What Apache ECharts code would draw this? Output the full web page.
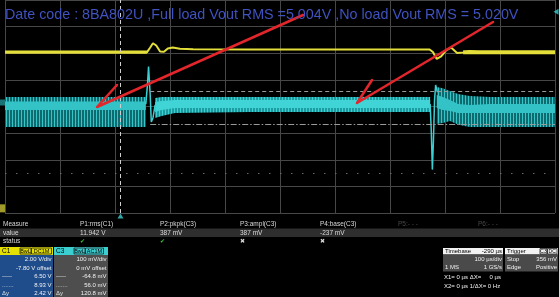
<!DOCTYPE html>
<html><head><meta charset="utf-8">
<script src="https://cdn.jsdelivr.net/npm/echarts@6/dist/echarts.min.js"></script>
<style>html,body{margin:0;padding:0;background:#000;overflow:hidden}#c{width:559px;height:297px}</style>
</head><body><div id="c"></div>
<script>
// ================= DATA =================
// Time in µs relative to the trigger (timebase 100 µs/div, delay -290 µs)
// ---- C1 (yellow) : volts, 2.00 V/div, offset -7.80 V
const c1Time = [-210,-110,-1,48,54,59,65,72,79,86,95,108,132,235,381,562,568,575,583,592,601,612,623,635,654,790];
const c1Volt = [11.89,11.89,11.89,11.87,12.23,12.55,12.38,11.93,11.91,12.16,12.23,12.13,12.10,12.08,12.08,12.08,11.89,11.37,11.56,12.01,12.23,11.82,11.86,11.97,11.87,11.87];
// noisy thickness of C1 (envelopes)
const c1NoiseLeftT = [-210, 48];   const c1NoiseLeftHi = [12.01, 12.01];  const c1NoiseLeftLo = [11.76, 11.76];
const c1NoiseRightT = [623, 790];  const c1NoiseRightHi = [12.03, 12.03]; const c1NoiseRightLo = [11.72, 11.72];

// ---- C3 (cyan) : mV, 100 mV/div, offset 0 mV
// ripple band before the load step
const c3LeftT = [-210, 46];
const c3LeftOuterHi = [36, 36];   const c3LeftOuterLo = [-77, -77];
const c3LeftCoreHi  = [19, 19];   const c3LeftCoreLo  = [-13, -13];
// band while loaded
const c3MidT = [63, 75, 99, 235, 563];
const c3MidOuterHi = [32, 36, 36, 36, 36];   const c3MidOuterLo = [-43, -36, -24, -21, -21];
const c3MidCoreHi  = [17, 21, 24, 24, 24];   const c3MidCoreLo  = [-21, -13, -6, -6, -6];
// band after the load release
const c3RightT = [575, 586, 599, 614, 635, 672, 790];
const c3RightOuterHi = [73, 69, 58, 47, 39, 36, 36];   const c3RightOuterLo = [-66, -62, -54, -69, -77, -77, -77];
const c3RightCoreHi  = [43, 36, 24, 9, 6, 9, 9];       const c3RightCoreLo  = [-6, -13, -17, -24, -24, -24, -24];
// transients
const c3Spike1T = [46, 49, 51, 54, 56, 59, 63];
const c3Spike1V = [9, 81, 150, 43, -58, -43, 6];
const c3Spike2T = [563, 565, 567, 569, 571, 573, 576];
const c3Spike2V = [9, -88, -237, -126, 24, 81, 54];

// cursors / levels
const c1Cursors = [8.93, 6.50];          // V
const cursorStartT = 54;                 // µs
const triggerLevel = 356;                // mV on C3
const dottedLevelDiv = 1.5;              // div from bottom

// Red hand-drawn arrows (in screen divisions: x 0..10, y 0..8): tail, tip, barb
const arrow1X = [5.418, 1.673, 2.036];  const arrow1Y = [7.437, 3.981, 4.808];
const arrow2X = [8.873, 6.400, 6.673];  const arrow2Y = [7.174, 4.131, 4.995];

// Texts
const titleText = 'Date code : 8BA802U ,Full load Vout RMS =5.004V ,No load Vout RMS = 5.020V';
const measHeaders = ['Measure', 'P1:rms(C1)', 'P2:pkpk(C3)', 'P3:ampl(C3)', 'P4:base(C3)', 'P5:- - -', 'P6:- - -'];
const measValues  = ['value', '11.942 V', '387 mV', '387 mV', '-237 mV', '', ''];
const measStatus  = ['status', '\u2714', '\u2714', '\u2716', '\u2716', '', ''];
const c1Labels = ['', '', '-----', '.......', '\u0394y'];
const c1Values = ['2.00 V/div', '-7.80 V offset', '6.50 V', '8.93 V', '2.42 V'];
const c3Labels = ['', '', '-----', '.......', '\u0394y'];
const c3Values = ['100 mV/div', '0 mV offset', '-64.8 mV', '56.0 mV', '120.8 mV'];
const tbHeader = ['Timebase', '-290 \u00b5s'];
const tbRows = [['', '100 \u00b5s/div'], ['1 MS', '1 GS/s']];
const trgHeader = ['Trigger', 'C3', 'DC'];
const trgRows = [['Stop', '356 mV'], ['Edge', 'Positive']];
const xLines = ['X1= 0 \u00b5s \u0394X=     0 \u00b5s', 'X2= 0 \u00b5s 1/\u0394X= 0 Hz'];

// ================= CHART =================
const zip = (a, b) => a.map((v, i) => [v, b[i]]);
function stripes(on, off) {
  const c = document.createElement('canvas'); c.width = 3; c.height = 2;
  const g = c.getContext('2d'); g.fillStyle = off; g.fillRect(0, 0, 3, 2); g.fillStyle = on; g.fillRect(0, 0, 1, 2);
  return { image: c, repeat: 'repeat' };
}
const YEL = '#e4de3a', CY = '#3ad0d3', RED = '#e2262b';
const stripeDark = stripes('#35c4c8', '#0d6b70');
const stripeMid = stripes('#3cd0d3', '#1d9ca1');
const band = (t, hi, lo, fill) => ({ t, hi, lo, fill });
const c3Outer = [band(c3LeftT, c3LeftOuterHi, c3LeftOuterLo, stripeDark), band(c3MidT, c3MidOuterHi, c3MidOuterLo, stripeMid), band(c3RightT, c3RightOuterHi, c3RightOuterLo, stripeDark)];
const c3Core  = [band(c3LeftT, c3LeftCoreHi, c3LeftCoreLo, '#33c3c7'), band(c3MidT, c3MidCoreHi, c3MidCoreLo, '#40d4d7'), band(c3RightT, c3RightCoreHi, c3RightCoreLo, '#33c3c7')];
const c1Noise = [band(c1NoiseLeftT, c1NoiseLeftHi, c1NoiseLeftLo, YEL), band(c1NoiseRightT, c1NoiseRightHi, c1NoiseRightLo, YEL)];

function bandSeries(bands, yIdx, z) {
  return {
    type: 'custom', xAxisIndex: 1, yAxisIndex: yIdx, z, silent: true, clip: true,
    data: bands.map((b, i) => [b.t[0], b.hi[0], i]),
    renderItem: (params, api) => {
      const b = bands[params.dataIndex];
      const pts = [];
      for (let i = 0; i < b.t.length; i++) pts.push(api.coord([b.t[i], b.hi[i]]));
      for (let i = b.t.length - 1; i >= 0; i--) pts.push(api.coord([b.t[i], b.lo[i]]));
      return { type: 'polygon', shape: { points: pts }, style: { fill: b.fill } };
    }
  };
}

const FF = '"Liberation Sans", "DejaVu Sans", sans-serif';
const font = (s, b) => (b ? 'bold ' : '') + s + 'px ' + FF;
const txt = (x, y, text, o = {}) => ({ type: 'text', x, y, silent: true, z: 10,
  style: { text, fill: o.fill || '#dcdcdc', font: font(o.size || 6.5, o.bold), textAlign: o.align || 'left', textVerticalAlign: 'middle' } });
const rect = (x, y, w, h, fill, stroke) => ({ type: 'rect', silent: true, z: 5,
  shape: { x, y, width: w, height: h }, style: { fill: fill || 'none', stroke: stroke || null, lineWidth: stroke ? 0.8 : 0 } });

const graphics = [];
graphics.push(txt(5, 15, titleText, { size: 14.3, fill: '#3f52bf' }));
// measurement table
graphics.push(rect(0, 228.5, 559, 8.5, '#2e2e2e'));
const colX = [3, 80, 160, 240, 320, 398, 478];
measHeaders.forEach((h, i) => graphics.push(txt(colX[i], 224, h, { fill: i >= 5 ? '#4a4a4a' : '#d8d8d8' })));
measValues.forEach((h, i) => h && graphics.push(txt(colX[i], 232.8, h)));
measStatus.forEach((h, i) => h && graphics.push(txt(colX[i], 241.5, h, { fill: i === 0 ? '#d8d8d8' : (h === '\u2714' ? '#3cc63c' : '#d8d8d8'), size: i === 0 ? 6.5 : 6 })));
// channel boxes
function chanBox(x0, w, name, headFill, bodyFill, tags, labels, values) {
  graphics.push(rect(x0, 247, w, 8, headFill));
  graphics.push(rect(x0, 255, w, 42, bodyFill));
  graphics.push(txt(x0 + 2, 251.2, name, { fill: '#000', size: 6.5 }));
  let tx = x0 + 20;
  tags.forEach(([t, tw]) => { graphics.push(rect(tx, 248, tw, 6, null, '#222')); graphics.push(txt(tx + tw / 2, 251.2, t, { fill: '#000', size: 5.5, align: 'center' })); tx += tw + 0.5; });
  const ys = [259.5, 268, 276.5, 285, 293.5];
  values.forEach((v, i) => {
    graphics.push(txt(x0 + w - 1.5, ys[i], v, { fill: '#f0f0f0', size: 6, align: 'right' }));
    if (labels[i]) graphics.push(txt(x0 + 2, ys[i], labels[i], { fill: '#e0e0e0', size: 6 }));
  });
}
chanBox(0, 53, 'C1', '#e6e000', '#1f4d8c', [['BwL', 11], ['DC1M', 20]], c1Labels, c1Values);
chanBox(54, 54, 'C3', '#3ccfd2', '#4e4e4e', [['BwL', 11], ['AC1M', 18]], c3Labels, c3Values);
// timebase box
graphics.push(rect(443, 248, 60, 6.5, '#f2f2f2'));
graphics.push(rect(443, 254.5, 60, 17, '#4a4a4a'));
graphics.push(txt(445, 251.4, tbHeader[0], { fill: '#000', size: 6 }));
graphics.push(txt(502, 251.4, tbHeader[1], { fill: '#000', size: 6, align: 'right' }));
tbRows.forEach((r, i) => { const y = 259.5 + i * 8; if (r[0]) graphics.push(txt(445, y, r[0], { size: 6, fill: '#f0f0f0' })); graphics.push(txt(502, y, r[1], { size: 6, fill: '#f0f0f0', align: 'right' })); });
// trigger box
graphics.push(rect(505, 248, 53, 6.5, '#f2f2f2'));
graphics.push(rect(505, 254.5, 53, 17, '#4a4a4a'));
graphics.push(txt(507, 251.4, trgHeader[0], { fill: '#000', size: 6 }));
graphics.push(rect(540, 248.5, 7, 5.5, null, '#222'));
graphics.push(txt(543.5, 251.4, trgHeader[1], { fill: '#000', size: 5, align: 'center' }));
graphics.push(rect(547.5, 248.5, 9.5, 5.5, null, '#222'));
graphics.push(txt(552.2, 251.4, trgHeader[2], { fill: '#000', size: 5, align: 'center' }));
trgRows.forEach((r, i) => { const y = 259.5 + i * 8; graphics.push(txt(507, y, r[0], { size: 6, fill: '#f0f0f0' })); graphics.push(txt(557, y, r[1], { size: 6, fill: '#f0f0f0', align: 'right' })); });
xLines.forEach((s, i) => graphics.push(txt(444, 277 + i * 9, s, { size: 6, fill: '#f0f0f0' })));

const hiddenAxis = (min, max) => ({ type: 'value', min, max, show: false });
const gridAxis = (max) => ({ type: 'value', min: 0, max, interval: 1, axisLine: { show: false }, axisTick: { show: false }, axisLabel: { show: false },
  splitLine: { show: true, lineStyle: { color: '#474747', width: 1 } } });

const option = {
  animation: false,
  backgroundColor: '#000',
  grid: { left: 5, right: 4, top: 0, bottom: 84, containLabel: false },
  xAxis: [gridAxis(10), hiddenAxis(-210, 790)],
  yAxis: [gridAxis(8), hiddenAxis(-0.2, 15.8), hiddenAxis(-400, 400)],
  series: [
    { type: 'line', xAxisIndex: 0, yAxisIndex: 0, data: [], silent: true, z: 1,
      markLine: { silent: true, symbol: 'none', label: { show: false },
        lineStyle: { color: '#6a6a6a', type: [1.5, 9.5], width: 1.2 }, data: [{ yAxis: dottedLevelDiv }] } },
    { type: 'line', xAxisIndex: 1, yAxisIndex: 1, data: [], silent: true, z: 1,
      markLine: { silent: true, symbol: 'none', label: { show: false }, animation: false,
        data: [
          { xAxis: 0, lineStyle: { color: '#cfcfcf', type: [4, 3], width: 1 } },
          [{ coord: [cursorStartT, c1Cursors[0]], lineStyle: { color: '#9a9a9a', type: [4, 3], width: 1 } }, { coord: [790, c1Cursors[0]] }],
          [{ coord: [cursorStartT, c1Cursors[1]], lineStyle: { color: '#9a9a9a', type: [6, 2, 1.5, 2], width: 1 } }, { coord: [790, c1Cursors[1]] }]
        ] } },
    bandSeries(c1Noise, 1, 3),
    { type: 'line', xAxisIndex: 1, yAxisIndex: 1, data: zip(c1Time, c1Volt), symbol: 'none', z: 4,
      lineStyle: { color: YEL, width: 2 } },
    bandSeries(c3Outer, 2, 3),
    bandSeries(c3Core, 2, 4),
    { type: 'line', xAxisIndex: 1, yAxisIndex: 2, data: zip(c3Spike1T, c3Spike1V), symbol: 'none', z: 4, lineStyle: { color: CY, width: 1.5 } },
    { type: 'line', xAxisIndex: 1, yAxisIndex: 2, data: zip(c3Spike2T, c3Spike2V), symbol: 'none', z: 4, lineStyle: { color: CY, width: 1.5 } },
    { type: 'scatter', xAxisIndex: 1, yAxisIndex: 0, clip: false, silent: true, z: 6, data: [[0, 0]],
      symbol: 'triangle', symbolSize: [6, 5], symbolOffset: [0, 3], itemStyle: { color: CY } },
    { type: 'scatter', xAxisIndex: 1, yAxisIndex: 2, clip: false, silent: true, z: 6, data: [[790, triggerLevel]],
      symbol: 'triangle', symbolRotate: 90, symbolSize: [6, 5], symbolOffset: [1, 0], itemStyle: { color: CY } },
    { type: 'scatter', xAxisIndex: 1, yAxisIndex: 2, clip: false, silent: true, z: 6, data: [[-210, 0]],
      symbol: 'rect', symbolSize: [5, 6], symbolOffset: [-2.5, -4], itemStyle: { color: '#1f8e92' } },
    { type: 'scatter', xAxisIndex: 1, yAxisIndex: 1, clip: false, silent: true, z: 6, data: [[-210, 0]],
      symbol: 'rect', symbolSize: [5, 8], symbolOffset: [-2.5, -2], itemStyle: { color: '#c9c23a' } },
    { type: 'line', xAxisIndex: 0, yAxisIndex: 0, data: zip(arrow1X, arrow1Y), symbol: 'none', z: 8, lineStyle: { color: RED, width: 2.5, cap: 'round', join: 'round' } },
    { type: 'line', xAxisIndex: 0, yAxisIndex: 0, data: zip(arrow2X, arrow2Y), symbol: 'none', z: 8, lineStyle: { color: RED, width: 2.5, cap: 'round', join: 'round' } }
  ],
  graphic: graphics
};
const chart = echarts.init(document.getElementById('c'));
chart.setOption(option);
</script>
</body></html>
